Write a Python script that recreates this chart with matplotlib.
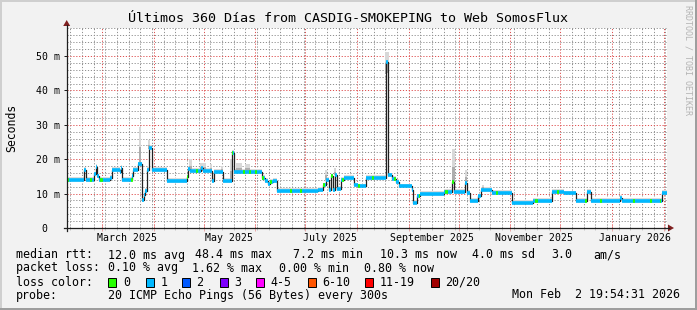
import datetime as dt
import numpy as np
import matplotlib.pyplot as plt
import matplotlib.dates as mdates
from matplotlib.patches import Rectangle, Polygon
from matplotlib.lines import Line2D
from matplotlib.ticker import FixedLocator, MultipleLocator

W, H = 697, 310
start = dt.datetime(2025, 2, 7, 19, 54, 31)
span = 360  # days

# median rtt in ms, step data: value holds from day until the next entry
med_days = [0, 10.6, 11.8, 16.6, 17.6, 18.2, 19.6, 26.0, 27.0, 32.0, 32.6, 33.2,
            39.0, 39.8, 42.8, 45.0, 46.1, 47.0, 48.2, 49.4, 51.0, 60.2, 72.0, 72.8,
            74.0, 80.6, 81.8, 87.0, 88.5, 94.0, 99.3, 100.1, 117.3, 119.0, 120.8,
            122.0, 123.8, 126.0, 141.8, 151.0, 153.8, 155.6, 157.4, 158.6, 159.8,
            161.0, 162.2, 164.6, 166.4, 172.4, 174.8, 179.5, 191.5, 192.7, 195.1,
            197.5, 199.4, 207.1, 207.7, 210.2, 212.0, 226.4, 231.2, 232.4, 239.0,
            240.2, 242.0, 246.8, 248.7, 255.3, 267.2, 279.8, 291.2, 298.4, 305.6,
            312.1, 314.5, 331.9, 333.1, 357.1]
med_vals = [13.9, 17.0, 13.9, 15.6, 17.8, 15.0, 13.9, 14.5, 17.0, 16.3, 17.5, 13.9,
            15.0, 16.8, 18.5, 8.0, 9.5, 10.8, 17.0, 23.4, 17.0, 13.6, 14.8, 17.2,
            16.6, 17.5, 16.6, 13.8, 16.3, 13.8, 21.8, 16.4, 14.5, 13.8, 12.8,
            13.3, 13.8, 10.9, 10.7, 11.0, 12.4, 13.9, 11.0, 15.0, 11.0,
            15.3, 11.4, 14.0, 14.6, 12.4, 12.1, 14.6, 48.4, 15.3, 14.2,
            13.4, 12.1, 11.0, 7.3, 9.2, 9.9, 10.4, 13.5, 10.4, 13.1,
            10.2, 7.9, 9.2, 11.1, 10.3, 7.3, 7.8, 10.4, 10.1, 7.9,
            10.4, 7.9, 8.7, 7.9, 10.2]

# stretches with 0 loss (green), rest of the line is 1 loss (blue)
green_spans = [(0, 1.4), (14.0, 15.2), (20.0, 22.0), (38.6, 39.8), (72.2, 72.8),
               (77.6, 78.8), (99.3, 100.0), (106.0, 107.0), (109.4, 110.6),
               (113.0, 114.2), (117.3, 118.5), (122.0, 123.2), (134.0, 135.2),
               (140.0, 141.2), (154.0, 155.0), (158.6, 159.8), (165.2, 166.4),
               (175.0, 176.0), (183.0, 184.4), (196.4, 197.5), (211.4, 212.0),
               (227.0, 228.8), (231.2, 232.4), (257.6, 258.8), (281.0, 282.8),
               (294.2, 295.4), (311.0, 312.1), (320.0, 321.2), (339.7, 340.9),
               (350.0, 351.2), (356.0, 356.8)]

# smoke: thin band around the median plus a few taller puffs (from, to, low, high)
smoke_up, smoke_down = 0.8, 0.3
smoke_puffs = [(43.4, 44.6, 18.5, 29.5), (48.8, 50.2, 23.0, 25.5), (73.4, 75.2, 16.6, 20.0),
               (80.0, 83.6, 16.6, 19.0), (86.0, 87.0, 16.6, 18.5), (92.6, 94.0, 16.3, 18.0),
               (98.0, 99.3, 13.8, 20.0), (101.6, 105.2, 16.4, 19.0), (107.0, 110.0, 16.4, 18.5),
               (155.0, 156.4, 13.9, 17.0), (160.4, 161.6, 15.3, 17.5), (190.8, 193.2, 45.0, 51.3),
               (231.0, 232.8, 13.5, 23.0), (239.0, 240.2, 13.1, 17.0), (249.0, 250.5, 11.1, 12.6),
               (290.0, 291.2, 7.8, 9.0)]

month_labels = ["March 2025", "May 2025", "July 2025", "September 2025",
                "November 2025", "January 2026"]
label_dates = [dt.datetime(2025, 3, 16), dt.datetime(2025, 5, 16), dt.datetime(2025, 7, 16),
               dt.datetime(2025, 9, 15), dt.datetime(2025, 11, 15), dt.datetime(2026, 1, 15)]
yticks = [0, 10, 20, 30, 40, 50]
ylabels = ["0  ", "10 m", "20 m", "30 m", "40 m", "50 m"]

loss_names = ["0", "1", "2", "3", "4-5", "6-10", "11-19", "20/20"]
loss_colors = ["#26ff00", "#00b8ff", "#0059ff", "#7e00ff", "#ff00ff", "#ff5500",
               "#ff0000", "#a10000"]

MONO = "DejaVu Sans Mono"
plt.rcParams["font.family"] = MONO

fig = plt.figure(figsize=(W / 100, H / 100), dpi=100)
fig.patch.set_facecolor("#F2F2F2")


def fx(px):
    return px / W


def fy(py):
    return 1 - py / H


# plot area 600x200 px
ax = fig.add_axes([fx(66.7), fy(228), 600 / W, 200 / H])
ax.set_facecolor("white")
t0 = mdates.date2num(start)
ax.set_xlim(t0, t0 + span)
ax.set_ylim(0, 200 / 3.44)
for s in ax.spines.values():
    s.set_visible(False)

grid_c = (0.56, 0.56, 0.56, 0.45)
mgrid_c = (0.87, 0.31, 0.31, 0.45)
ax.xaxis.set_major_locator(mdates.MonthLocator())
ax.xaxis.set_minor_locator(mdates.WeekdayLocator(byweekday=mdates.MO))
ax.yaxis.set_major_locator(FixedLocator(yticks))
ax.yaxis.set_minor_locator(MultipleLocator(2))
ax.set_yticklabels(ylabels)
ax.grid(which="minor", color=grid_c, ls=(0, (1.2, 1.8)), lw=0.7)
ax.grid(which="major", color=mgrid_c, ls=(0, (1.2, 1.8)), lw=0.7)
ax.set_axisbelow(True)
ax.tick_params(axis="x", which="both", labelbottom=False, direction="inout")
ax.tick_params(axis="x", which="major", length=4, width=0.72, color=mgrid_c)
ax.tick_params(axis="x", which="minor", length=2.5, width=0.72, color=grid_c)
ax.tick_params(axis="y", which="major", length=2, width=0.72, color="#1F1F1F",
               pad=2.8, labelsize=7.1)
ax.tick_params(axis="y", which="minor", length=0)

for lbl, d in zip(month_labels, label_dates):
    ax.annotate(lbl, xy=(mdates.date2num(d), 0), xycoords=("data", "axes fraction"),
                xytext=(0, -7.2), textcoords="offset points", ha="center", va="center",
                fontsize=7.1, annotation_clip=False)

x = t0 + np.array(med_days + [span])
y = np.array(med_vals + [med_vals[-1]])
vals = np.array(med_vals)
days = np.array(med_days)

# smoke
ax.fill_between(x, y - smoke_down, y + smoke_up, step="post", color="#DCDCDC", lw=0, zorder=2)
for d0, d1, lo, hi in smoke_puffs:
    ax.fill_between([t0 + d0, t0 + d1], lo, hi, color="#D8D8D8", lw=0, zorder=2)
    ax.fill_between([t0 + d0, t0 + d1], lo, lo + 0.45 * (hi - lo), color="#ADADAD",
                    lw=0, zorder=2)

# median line
ax.step(x, y, where="post", color="#202020", lw=0.9, zorder=3)
ax.hlines(vals, x[:-1], x[1:], colors="#00b8ff", lw=2.6, capstyle="butt", zorder=4)
for d0, d1 in green_spans:
    v = vals[np.searchsorted(days, d0, side="right") - 1]
    ax.hlines(v, t0 + d0, t0 + d1, colors="#26ff00", lw=2.6, capstyle="butt", zorder=5)

# axes with arrows
axis_c, arrow_c = "#1F1F1F", "#801F1F"
fig.add_artist(Line2D([fx(64), fx(669)], [fy(228), fy(228)], color=axis_c, lw=0.9))
fig.add_artist(Line2D([fx(66.7), fx(66.7)], [fy(231), fy(25)], color=axis_c, lw=0.9))
fig.add_artist(Polygon([(fx(668), fy(224.5)), (fx(668), fy(231.5)), (fx(674), fy(228))],
                       closed=True, color=arrow_c, lw=0))
fig.add_artist(Polygon([(fx(63.2), fy(26)), (fx(70.2), fy(26)), (fx(66.7), fy(20))],
                       closed=True, color=arrow_c, lw=0))

# frame shading
for (x0, y0, w, h, c) in [(0, 0, W, 2, "#CFCFCF"), (0, 0, 2, H, "#CFCFCF"),
                          (W - 2, 0, 2, H, "#9E9E9E"), (0, H - 2, W, 2, "#9E9E9E")]:
    fig.add_artist(Rectangle((fx(x0), fy(y0 + h)), w / W, h / H, color=c, lw=0))

fig.text(fx(348), fy(18), "Últimos 360 Días from CASDIG-SMOKEPING to Web SomosFlux",
         ha="center", va="center", fontsize=9.6)
fig.text(fx(12), fy(128), "Seconds", rotation=90, ha="center", va="center", fontsize=8.3)
fig.text(fx(688), fy(5), "RRDTOOL / TOBI OETIKER", rotation=270, ha="center", va="top",
         fontsize=6, color="#B4B4B4")

fs = 8.35
rows = [
    (255, [(16, "median rtt:"), (107.6, "12.0 ms avg"), (195, "48.4 ms max"),
           (293, "7.2 ms min"), (380, "10.3 ms now"), (472, "4.0 ms sd"),
           (551, "3.0"), (593, "am/s")]),
    (268, [(16, "packet loss:"), (107.6, "0.10 % avg"), (192, "1.62 % max"),
           (279, "0.00 % min"), (364, "0.80 % now")]),
    (282, [(16, "loss color:")]),
    (295, [(16, "probe:"), (107.6, "20 ICMP Echo Pings (56 Bytes) every 300s")]),
]
for yy, items in rows:
    for xx, s in items:
        fig.text(fx(xx), fy(yy), s, ha="left", va="center", fontsize=fs)
fig.text(fx(680), fy(295), "Mon Feb  2 19:54:31 2026", ha="right", va="center", fontsize=fs)

box_x = [108.4, 145.8, 182, 219.6, 256.4, 307.6, 365, 431]
for bx, name, c in zip(box_x, loss_names, loss_colors):
    fig.add_artist(Rectangle((fx(bx), fy(286.5)), 8 / W, 9 / H, facecolor=c,
                             edgecolor="black", lw=0.7))
    fig.text(fx(bx + 14.5), fy(282), name, ha="left", va="center", fontsize=fs)

fig.savefig("out.png", dpi=100, facecolor=fig.get_facecolor())
